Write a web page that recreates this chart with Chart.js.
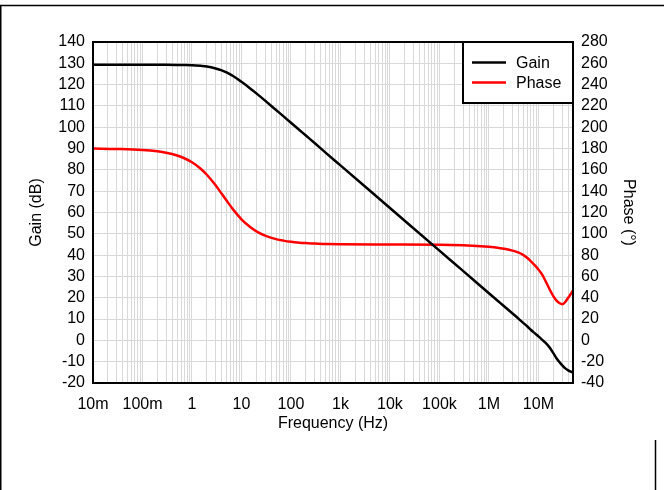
<!DOCTYPE html>
<html>
<head>
<meta charset="utf-8">
<title>Open-loop gain and phase</title>
<script src="https://cdn.jsdelivr.net/npm/chart.js@4/dist/chart.umd.min.js"></script>
<style>
  html, body { margin: 0; padding: 0; background: #fff; }
  canvas { display: block; }
</style>
</head>
<body>
<canvas id="bode" width="664" height="490"></canvas>
<script>
// Frequency points (Hz) shared by both curves
const frequencyHz = [
  0.01, 0.03, 0.1, 0.2, 0.3, 0.5, 0.7, 1, 1.5, 2, 3, 4, 5, 7, 10, 15, 20, 30, 50, 70,
  100, 150, 200, 300, 500, 1e3, 1e4, 1e5, 3e5,
  1e6, 1.5e6, 2e6, 3e6, 4e6, 5e6, 6e6, 7e6, 8.5e6, 1e7,
  1.2e7, 1.4e7, 1.7e7, 2e7, 2.3e7, 2.7e7, 3e7, 3.4e7, 4e7, 4.5e7, 5e7
];

// Open-loop gain (dB)
const gainDb = [
  129.3, 129.3, 129.3, 129.29, 129.28, 129.24, 129.19, 129.1, 128.8, 128.5, 127.6, 126.7, 125.7, 123.8, 121.3, 118.2, 115.9, 112.5, 108.1, 105.2,
  102.1, 98.6, 96.1, 92.6, 88.1, 82.1, 62.1, 42.1, 32.6,
  22.1, 18.6, 16.1, 12.6, 10.1, 8.1, 6.5, 5.0, 3.3, 1.9,
  0.2, -1.2, -3.5, -6.0, -8.3, -10.4, -11.6, -12.9, -14.1, -14.7, -15.1
];

// Phase (degrees)
const phaseDeg = [
  180, 179.6, 178.7, 177.4, 176.1, 173.5, 170.9, 167.1, 161.1, 155.4, 145.5, 137.5, 131.2, 122.0, 113.6, 106.3, 102.3, 98.3, 95.0, 93.6,
  92.5, 91.7, 91.3, 90.8, 90.5, 90.2, 90.0, 89.8, 89.2,
  87.8, 87.0, 86.0, 84.2, 82.3, 80.0, 77.3, 74.3, 70.3, 66.5,
  61.5, 55.5, 47.5, 41.5, 37.5, 34.8, 34.0, 35.5, 40.0, 43.5, 47.0
];

// Labelled decades on the frequency axis
const decadeValues = [0.01, 0.1, 1, 10, 100, 1e3, 1e4, 1e5, 1e6, 1e7];
const decadeLabels = ['10m', '100m', '1', '10', '100', '1k', '10k', '100k', '1M', '10M'];

const seriesNames = ['Gain', 'Phase'];
const seriesColors = ['#000000', '#ff0000'];

const FONT = 'Arial, "Liberation Sans", Helvetica, sans-serif';

// 1..9 x 10^n grid lines across the frequency range
function logGridValues(min, max) {
  const out = [];
  for (let e = Math.floor(Math.log10(min)); e <= Math.ceil(Math.log10(max)); e++) {
    for (let s = 1; s <= 9; s++) {
      const v = parseFloat((s * Math.pow(10, e)).toPrecision(6));
      if (v >= min * 0.9999 && v <= max * 1.0001) out.push(v);
    }
  }
  return out;
}

const X_MIN = 0.01, X_MAX = 5e7;

// Page frame, plot box and the boxed legend
const framePlugin = {
  id: 'frame',
  beforeDraw(chart) {
    const ctx = chart.ctx;
    ctx.save();
    ctx.fillStyle = '#fff';
    ctx.fillRect(0, 0, chart.width, chart.height);
    ctx.restore();
  },
  afterDraw(chart) {
    const ctx = chart.ctx;
    const a = chart.chartArea;
    ctx.save();
    // outer page rules
    ctx.strokeStyle = '#000';
    ctx.lineWidth = 1.5;
    ctx.beginPath();
    ctx.moveTo(0, 5.5); ctx.lineTo(chart.width, 5.5);
    ctx.moveTo(0.75, 5.5); ctx.lineTo(0.75, chart.height);
    ctx.moveTo(655.5, 440); ctx.lineTo(655.5, chart.height);
    ctx.stroke();

    // plot border
    ctx.lineWidth = 2;
    ctx.strokeRect(a.left, a.top, a.right - a.left, a.bottom - a.top);

    // legend box
    const bw = 110, bh = 61;
    const bx = a.right - bw, by = a.top;
    ctx.fillStyle = '#fff';
    ctx.fillRect(bx, by, bw, bh);
    ctx.strokeRect(bx, by, bw, bh);
    ctx.font = '16px ' + FONT;
    ctx.textBaseline = 'middle';
    ctx.textAlign = 'left';
    chart.data.datasets.forEach((ds, i) => {
      const y = by + 20.5 + i * 20;
      ctx.strokeStyle = ds.borderColor;
      ctx.lineWidth = 2.5;
      ctx.beginPath();
      ctx.moveTo(bx + 9, y); ctx.lineTo(bx + 43, y);
      ctx.stroke();
      ctx.fillStyle = '#000';
      ctx.fillText(ds.label, bx + 53, y + 1);
    });
    ctx.restore();
  }
};

new Chart(document.getElementById('bode'), {
  type: 'line',
  data: {
    datasets: [
      {
        label: seriesNames[0],
        data: frequencyHz.map((f, i) => ({ x: f, y: gainDb[i] })),
        yAxisID: 'y',
        borderColor: seriesColors[0],
        borderWidth: 2.5,
        pointRadius: 0,
        cubicInterpolationMode: 'monotone',
        fill: false
      },
      {
        label: seriesNames[1],
        data: frequencyHz.map((f, i) => ({ x: f, y: phaseDeg[i] })),
        yAxisID: 'y1',
        borderColor: seriesColors[1],
        borderWidth: 2.5,
        pointRadius: 0,
        cubicInterpolationMode: 'monotone',
        fill: false
      }
    ]
  },
  options: {
    responsive: false,
    animation: false,
    devicePixelRatio: 1,
    layout: { padding: { left: 0, right: 0, top: 42, bottom: 56 } },
    plugins: {
      legend: { display: false },
      tooltip: { enabled: false }
    },
    scales: {
      x: {
        type: 'logarithmic',
        min: X_MIN,
        max: X_MAX,
        afterBuildTicks(scale) {
          scale.ticks = logGridValues(X_MIN, X_MAX).map(v => ({ value: v }));
        },
        afterFit(scale) { scale.height = 51; },
        grid: { color: '#d9d9d9', lineWidth: 1, drawTicks: false },
        border: { display: false },
        ticks: {
          autoSkip: false,
          maxRotation: 0,
          padding: 12,
          color: '#000',
          font: { family: FONT, size: 16 },
          callback(value) {
            const i = decadeValues.findIndex(d => Math.abs(Math.log10(d) - Math.log10(value)) < 1e-6);
            return i >= 0 ? decadeLabels[i] : '';
          }
        },
        title: {
          display: true,
          text: 'Frequency (Hz)',
          color: '#000',
          font: { family: FONT, size: 16 },
          padding: { top: 0, bottom: 1 }
        }
      },
      y: {
        position: 'left',
        min: -20,
        max: 140,
        afterFit(scale) { scale.width = 93; },
        grid: { color: '#d9d9d9', lineWidth: 1, drawTicks: false },
        border: { display: false },
        ticks: {
          stepSize: 10,
          autoSkip: false,
          maxTicksLimit: 50,
          padding: 8,
          color: '#000',
          font: { family: FONT, size: 16 }
        },
        title: {
          display: true,
          text: 'Gain (dB)',
          color: '#000',
          font: { family: FONT, size: 16 },
          padding: { top: 27, bottom: 0 }
        }
      },
      y1: {
        position: 'right',
        min: -40,
        max: 280,
        afterFit(scale) { scale.width = 91; },
        grid: { display: false, drawTicks: false },
        border: { display: false },
        ticks: {
          stepSize: 20,
          autoSkip: false,
          maxTicksLimit: 50,
          padding: 8,
          color: '#000',
          font: { family: FONT, size: 16 }
        },
        title: {
          display: true,
          text: 'Phase (°)',
          color: '#000',
          font: { family: FONT, size: 16 },
          padding: { top: 26, bottom: 0 }
        }
      }
    }
  },
  plugins: [framePlugin]
});
</script>
</body>
</html>
